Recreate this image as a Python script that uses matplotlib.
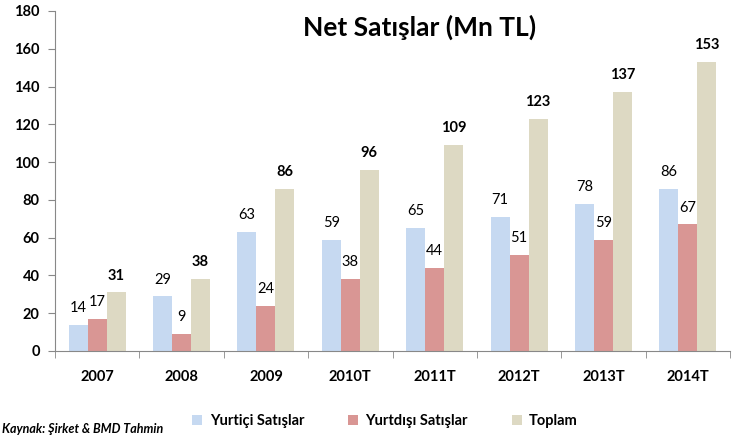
import matplotlib
matplotlib.use("Agg")
import matplotlib.pyplot as plt
import numpy as np

years = ["2007", "2008", "2009", "2010T", "2011T", "2012T", "2013T", "2014T"]
yurtici = [14, 29, 63, 59, 65, 71, 78, 86]
yurtdisi = [17, 9, 24, 38, 44, 51, 59, 67]
toplam = [31, 38, 86, 96, 109, 123, 137, 153]
series_names = ["Yurtiçi Satışlar", "Yurtdışı Satışlar", "Toplam"]

plt.rcParams["font.family"] = ["Lato", "DejaVu Sans"]

fig = plt.figure(figsize=(7.4, 4.37), dpi=100)
ax = fig.add_axes([55 / 740, 86 / 437, 675 / 740, 340 / 437])

x = np.arange(len(years))
w = 0.225
colors = ["#C6D9F1", "#D99694", "#DDD9C3"]
groups = [yurtici, yurtdisi, toplam]
for i, (vals, c, name) in enumerate(zip(groups, colors, series_names)):
    bars = ax.bar(x + (i - 1) * w, vals, w, color=c, label=name)
    for b, v in zip(bars, vals):
        ax.annotate(str(v), (b.get_x() + b.get_width() / 2, v), xytext=(0, 7),
                    textcoords="offset points", ha="center", va="bottom",
                    fontsize=10.5, fontweight="bold" if i == 2 else "normal",
                    color="black")

ax.set_xlim(-0.5, len(years) - 0.5)
ax.set_ylim(0, 180)
ax.set_yticks(range(0, 181, 20))
ax.set_yticklabels([str(v) for v in range(0, 181, 20)], fontweight="bold", fontsize=10.5)
ax.set_xticks(x)
ax.set_xticklabels(years, fontweight="bold", fontsize=10.5)
ax.tick_params(axis="x", length=0, pad=14)
ax.set_xticks(np.arange(-0.5, len(years)), minor=True)
ax.tick_params(axis="x", which="minor", length=5, color="#888888")
ax.tick_params(axis="y", length=5, color="#888888", pad=6)
for s in ["top", "right"]:
    ax.spines[s].set_visible(False)
ax.spines["left"].set_color("#888888")
ax.spines["bottom"].set_color("#888888")

fig.text(420 / 740, 1 - 27 / 437, "Net Satışlar (Mn TL)", ha="center", va="center",
         fontsize=19, fontweight="bold")

leg = fig.legend(loc="center", bbox_to_anchor=(385 / 740, 1 - 421 / 437), ncol=3,
                 frameon=False, fontsize=10.5, handlelength=0.7, handleheight=0.7,
                 columnspacing=3, handletextpad=0.5)
for t in leg.get_texts():
    t.set_fontweight("bold")

fig.text(2 / 740, 1 - 435 / 437, "Kaynak: Şirket & BMD Tahmin", ha="left", va="bottom",
         fontsize=9, fontweight="bold", fontstyle="italic")

fig.savefig("out.png", dpi=100)
